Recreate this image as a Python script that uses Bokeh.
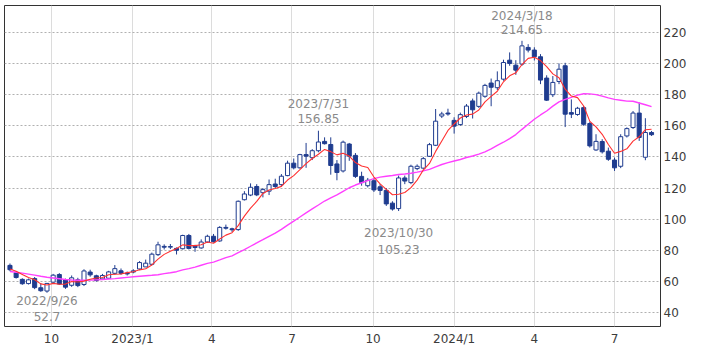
import pandas as pd
from bokeh.plotting import figure
from bokeh.models import FixedTicker, ColumnDataSource, Range1d
from bokeh.embed import file_html
from bokeh.resources import INLINE
from bokeh.core.properties import value

# ---- data (weekly candles, first week 2022-08-15) ----
start_date = "2022-08-15"
opens = [70.3, 65.5, 61.3, 58.6, 61.8, 55.9, 53.8, 59.5, 64.4, 61.0,
         57.5, 61.0, 58.0, 66.0, 63.6, 61.6, 62.0, 65.2, 66.8, 65.3,
         66.0, 68.0, 69.3, 71.0, 77.2, 82.5, 82.0, 81.2, 81.0, 89.5,
         82.6, 81.5, 85.3, 89.0, 86.0, 94.7, 93.8, 93.3, 112.5, 115.5,
         121.0, 117.0, 118.0, 122.6, 122.2, 128.0, 136.0, 133.0, 141.5, 139.5,
         144.0, 150.0, 148.0, 135.5, 131.0, 148.3, 141.0, 127.5, 121.5, 124.7,
         120.8, 118.5, 110.3, 106.8, 126.5, 123.5, 132.5, 132.8, 140.4, 147.5,
         166.3, 168.2, 163.5, 160.8, 166.0, 176.0, 172.5, 179.0, 187.5, 184.5,
         190.0, 202.2, 199.0, 199.7, 210.4, 208.7, 204.4, 190.7, 180.0, 188.5,
         198.6, 168.5, 167.3, 171.7, 161.5, 144.5, 149.9, 143.7, 138.0, 134.0,
         153.5, 158.9, 168.2, 139.8, 155.7]
highs = [71.5, 66.5, 62.0, 61.8, 62.8, 58.8, 59.0, 64.8, 65.3, 61.8,
         63.8, 62.3, 67.8, 67.5, 64.3, 64.8, 66.8, 70.5, 68.3, 66.3,
         67.8, 73.0, 74.0, 78.5, 85.5, 83.8, 84.0, 81.8, 90.0, 90.5,
         83.5, 87.0, 90.0, 90.5, 95.5, 96.5, 94.5, 112.0, 118.0, 123.0,
         122.5, 120.0, 125.5, 126.0, 129.0, 137.6, 139.0, 142.0, 149.0, 145.0,
         156.85, 152.6, 152.6, 138.0, 150.5, 149.0, 142.5, 130.5, 126.5, 126.5,
         122.5, 120.0, 111.5, 128.0, 128.0, 135.0, 135.2, 140.0, 149.0, 170.8,
         169.0, 171.0, 165.5, 168.5, 174.0, 177.5, 182.0, 187.0, 190.4, 195.0,
         202.5, 207.2, 202.2, 214.65, 212.5, 210.5, 206.1, 192.5, 192.0, 200.1,
         200.5, 177.0, 172.2, 172.7, 162.7, 154.6, 151.4, 146.0, 139.6, 154.6,
         159.0, 169.5, 175.0, 164.9, 156.7]
lows = [66.5, 61.8, 57.8, 58.0, 55.0, 53.3, 52.7, 58.8, 57.7, 55.2,
        56.5, 56.3, 57.0, 63.0, 59.8, 61.0, 61.5, 64.3, 64.3, 63.8,
        65.2, 67.3, 69.3, 70.3, 76.3, 80.5, 80.8, 77.3, 80.5, 80.5,
        79.0, 81.0, 84.8, 85.0, 85.5, 93.3, 91.8, 92.5, 112.0, 114.8,
        114.8, 114.0, 115.5, 120.0, 121.0, 127.6, 132.0, 132.5, 133.0, 138.0,
        143.0, 148.0, 128.6, 125.0, 130.0, 137.5, 126.5, 121.5, 120.4, 117.5,
        115.5, 108.5, 105.5, 105.23, 122.5, 122.5, 131.5, 132.0, 140.0, 147.0,
        165.0, 166.5, 155.0, 160.0, 165.0, 164.7, 171.5, 178.0, 172.6, 183.0,
        189.0, 198.6, 192.8, 198.6, 207.2, 202.0, 186.8, 176.0, 178.5, 186.8,
        159.2, 165.0, 166.5, 160.0, 146.0, 143.9, 142.2, 137.5, 131.0, 132.8,
        152.5, 158.0, 150.3, 137.9, 153.5]
closes = [67.5, 62.5, 58.5, 61.0, 56.0, 54.0, 58.7, 64.0, 58.3, 56.3,
          62.3, 57.3, 66.7, 64.2, 60.6, 63.8, 66.1, 68.2, 65.2, 64.8,
          66.8, 72.1, 71.7, 77.5, 83.5, 82.0, 82.4, 80.0, 89.5, 81.2,
          81.8, 85.3, 89.0, 85.5, 94.7, 94.2, 93.2, 111.5, 116.2, 120.5,
          115.6, 119.0, 122.2, 121.0, 127.6, 136.0, 133.0, 141.5, 140.5, 144.0,
          149.6, 148.5, 134.5, 130.0, 149.5, 140.5, 127.5, 123.5, 125.0, 118.8,
          118.5, 109.8, 106.5, 126.5, 124.5, 134.0, 134.0, 138.9, 147.9, 163.0,
          167.6, 167.6, 159.8, 167.2, 172.7, 170.3, 181.0, 186.0, 184.8, 189.0,
          200.7, 200.1, 195.8, 211.4, 208.7, 204.4, 189.4, 176.5, 187.9, 196.4,
          167.5, 167.5, 171.3, 161.0, 147.1, 150.0, 143.3, 138.5, 133.0, 153.0,
          158.2, 168.2, 152.5, 155.7, 154.3]

ma_short_window = 5
ma_long_window = 26
ma_short_head = [68.0, 66.5, 64.5, 62.5]
ma_long_head = [66.4, 65.9, 65.3, 64.7, 64.0, 63.3, 62.7, 62.2, 61.7, 61.2,
                60.9, 60.7, 60.7, 60.8, 61.0, 61.2, 61.5, 61.8, 62.2, 62.6,
                63.0, 63.3, 63.6, 63.9, 64.3]

# annotations
annot_dates = ["2022-09-26", "2023-07-31", "2023-10-30", "2024-03-18"]
annot_date_text = ["2022/9/26", "2023/7/31", "2023/10/30", "2024/3/18"]
annot_values = [52.7, 156.85, 105.23, 214.65]
annot_value_text = ["52.7", "156.85", "105.23", "214.65"]

# axes
x_tick_dates = ["2022-10-01", "2023-01-01", "2023-04-01", "2023-07-01",
                "2023-10-01", "2024-01-01", "2024-04-01", "2024-07-01"]
x_tick_labels = ["10", "2023/1", "4", "7", "10", "2024/1", "4", "7"]
y_ticks = [40, 60, 80, 100, 120, 140, 160, 180, 200, 220]

# ---- build ----
df = pd.DataFrame({"open": opens, "high": highs, "low": lows, "close": closes})
df["date"] = pd.date_range(start_date, periods=len(df), freq="7D")
df["top"] = df[["open", "close"]].max(axis=1)
df["bottom"] = df[["open", "close"]].min(axis=1)
ma_s = df["close"].rolling(ma_short_window).mean()
ma_s.iloc[:len(ma_short_head)] = ma_short_head
ma_l = df["close"].rolling(ma_long_window).mean()
ma_l.iloc[:len(ma_long_head)] = ma_long_head
df["ma_s"] = ma_s
df["ma_l"] = ma_l

up = ColumnDataSource(df[df["close"] >= df["open"]])
down = ColumnDataSource(df[df["close"] < df["open"]])
all_src = ColumnDataSource(df)

NAVY = "#1f3c8f"
W = 4.6 * 24 * 3600 * 1000

p = figure(width=709, height=354, x_axis_type="datetime",
           x_range=Range1d(pd.Timestamp("2022-08-08 19:00"), pd.Timestamp("2024-08-22 04:00")),
           y_range=Range1d(31.0, 237.35),
           output_backend="svg", toolbar_location=None,
           y_axis_location="right",
           min_border_left=4, min_border_top=5, min_border_right=49, min_border_bottom=28)
p.background_fill_color = "white"
p.border_fill_color = "white"
p.outline_line_color = "#333333"
p.outline_line_width = 1

tick_ms = [float(pd.Timestamp(d).value // 10**6) for d in x_tick_dates]
xt = FixedTicker(ticks=tick_ms)
p.xaxis.ticker = xt
p.xgrid.ticker = xt
p.xaxis.major_label_overrides = {t: l for t, l in zip(tick_ms, x_tick_labels)}
yt = FixedTicker(ticks=y_ticks)
p.yaxis.ticker = yt
p.ygrid.ticker = yt

for ax in (p.xaxis, p.yaxis):
    ax.axis_line_color = None
    ax.major_tick_line_color = None
    ax.minor_tick_line_color = None
    ax.major_tick_out = 0
    ax.major_tick_in = 0
    ax.minor_tick_out = 0
    ax.minor_tick_in = 0
    ax.major_label_text_font = "DejaVu Sans"
    ax.major_label_text_font_size = "12px"
    ax.major_label_text_color = "#3c3c3c"
p.xaxis.major_label_standoff = 5
p.yaxis.major_label_standoff = 3

p.xgrid.grid_line_color = "#dcdcdc"
p.xgrid.grid_line_width = 1
p.ygrid.grid_line_color = "#b0b0b0"
p.ygrid.grid_line_dash = "2 2"
p.ygrid.grid_line_width = 1

p.segment(x0="date", y0="high", x1="date", y1="low", source=all_src,
          line_color=NAVY, line_width=1)
p.vbar(x="date", width=W, top="top", bottom="bottom", source=up,
       fill_color="white", line_color=NAVY, line_width=1)
p.vbar(x="date", width=W, top="top", bottom="bottom", source=down,
       fill_color=NAVY, line_color=NAVY, line_width=1)

p.line(x="date", y="ma_l", source=all_src, line_color="#ff40ff", line_width=1.4)
p.line(x="date", y="ma_s", source=all_src, line_color="#ff3030", line_width=1.1)

ann = ColumnDataSource(dict(
    x=[pd.Timestamp(d) for d in annot_dates],
    y=annot_values,
    dtext=annot_date_text,
    vtext=annot_value_text,
    doff=[8, -27, 22, -25],
    voff=[24, -12, 38, -11],
))
p.text(x="x", y="y", text="dtext", y_offset="doff", source=ann,
       text_font=value("DejaVu Sans"), text_font_size="12px", text_color="#8a8a8a",
       text_align="center", text_baseline="middle")
p.text(x="x", y="y", text="vtext", y_offset="voff", source=ann,
       text_font=value("DejaVu Sans"), text_font_size="12px", text_color="#8a8a8a",
       text_align="center", text_baseline="middle")

open("out.html", "w").write(file_html(p, INLINE))
